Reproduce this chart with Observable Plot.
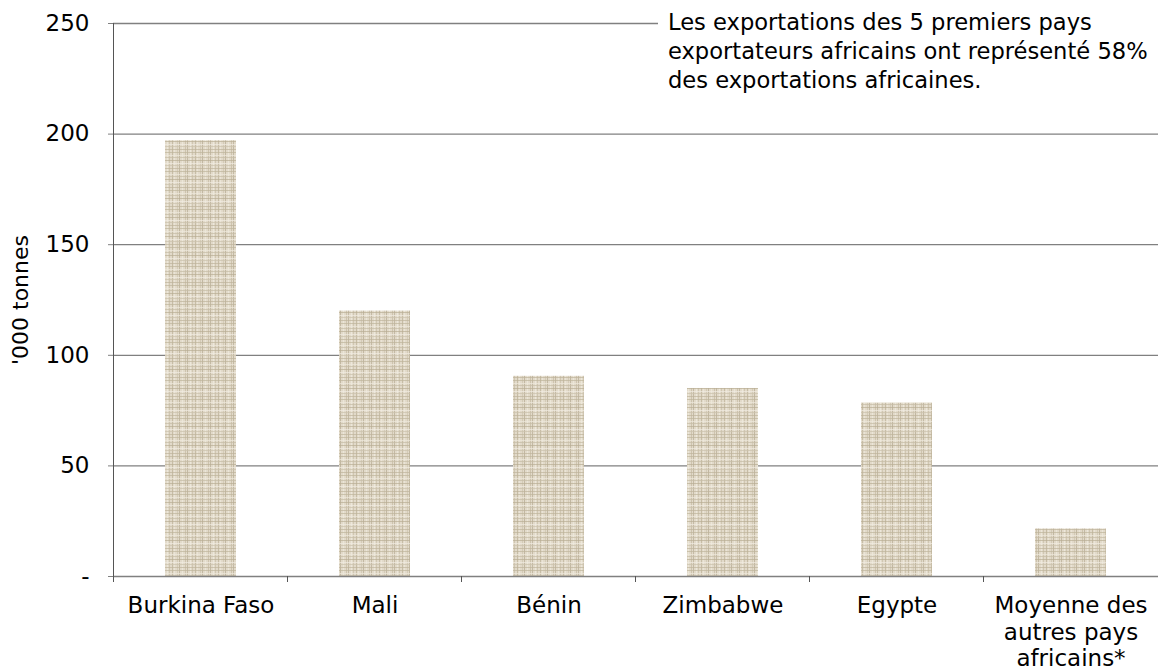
<!DOCTYPE html>
<html>
<head>
<meta charset="utf-8">
<script src="https://cdn.jsdelivr.net/npm/d3@7"></script>
<script src="https://cdn.jsdelivr.net/npm/@observablehq/plot@0.6"></script>
<style>
  html, body { margin: 0; padding: 0; background: #fff; }
  #wrap { position: relative; width: 1158px; height: 670px; overflow: hidden; font-family: "DejaVu Sans", Verdana, sans-serif; }
  #note { position: absolute; left: 658px; top: 8px; padding-left: 10px; background: #fff; font-size: 22.6px; line-height: 29px; color: #000; width: 490px; white-space: nowrap; }
</style>
</head>
<body>
<div id="wrap"><div id="note"></div></div>
<script>
const categories = ["Burkina Faso", "Mali", "Bénin", "Zimbabwe", "Egypte", "Moyenne des\nautres pays\nafricains*"];
const values = [197, 120, 90.5, 85, 78.5, 21.5];
const yTicks = [0, 50, 100, 150, 200, 250];
const yLabel = "'000 tonnes";
const noteLines = ["Les exportations des 5 premiers pays", "exportateurs africains ont représenté 58%", "des exportations africaines."];

document.getElementById("note").innerHTML = noteLines.join("<br>");

const data = categories.map((c, i) => ({category: c, value: values[i]}));
const FONT = 23;

const chart = Plot.plot({
  width: 1158,
  height: 670,
  marginLeft: 113,
  marginRight: 0,
  marginTop: 23,
  marginBottom: 94,
  style: {fontFamily: "'DejaVu Sans', Verdana, sans-serif", fontSize: FONT + "px", color: "#000", background: "#fff", overflow: "visible"},
  x: {domain: categories, paddingInner: 0.59, paddingOuter: 0.295, align: 0.5},
  y: {domain: [0, 250]},
  marks: [
    Plot.gridY(yTicks.filter(d => d > 0), {stroke: "#808080", strokeOpacity: 1, strokeWidth: 1.3}),
    Plot.barY(data, {x: "category", y: "value", fill: "url(#linen)"}),
    Plot.axisY(yTicks, {tickSize: 5, tickPadding: 19, stroke: "#808080", tickFormat: d => d === 0 ? "-" : d, label: null, fontSize: FONT}),
    Plot.axisX({tickSize: 0, tickPadding: 18, label: null, fontSize: FONT, lineHeight: 1.15}),
    Plot.ruleY([0], {stroke: "#808080", strokeWidth: 1.5}),
    Plot.frame({anchor: "left", stroke: "#555"}),
    Plot.text([yLabel], {frameAnchor: "left", textAnchor: "middle", dx: -93, rotate: -90, fontSize: FONT - 1, fill: "#000"})
  ]
});

// textured (linen-like) fill for bars
const svg = d3.select(chart);
const defs = svg.insert("defs", ":first-child");
const pat = defs.append("pattern").attr("id", "linen").attr("patternUnits", "userSpaceOnUse")
  .attr("width", 23).attr("height", 19);
pat.append("rect").attr("width", 23).attr("height", 19).attr("fill", "#e2daca");
const vCols = [[1, "#c6bba3"], [3, "#b8ad94"], [6, "#f2ede2"], [8, "#c9bfa9"], [11, "#bcb198"], [13, "#efe9dc"], [16, "#cfc5b0"], [18, "#b5aa91"], [21, "#f0ebdf"]];
const hRows = [[0, "#c0b59c"], [3, "#efe9dc"], [5, "#c7bca5"], [8, "#b9ae95"], [11, "#f1ece1"], [13, "#ccc2ad"], [16, "#bfb49b"]];
vCols.forEach(([p, c]) => pat.append("rect").attr("x", p).attr("y", 0).attr("width", 1).attr("height", 19).attr("fill", c).attr("opacity", 0.7));
hRows.forEach(([p, c]) => pat.append("rect").attr("x", 0).attr("y", p).attr("width", 23).attr("height", 1).attr("fill", c).attr("opacity", 0.7));

// category boundary ticks on the x axis, placed through the x scale
const xs = chart.scale("x");
const ys = chart.scale("y");
const y0 = ys.apply(0);
const step = xs.step;
const boundaries = categories.map(c => xs.apply(c) - (step - xs.bandwidth) / 2);
svg.append("g").selectAll("line").data(boundaries).join("line")
  .attr("x1", d => d).attr("x2", d => d)
  .attr("y1", y0).attr("y2", y0 + 6)
  .attr("stroke", "#555");

document.getElementById("wrap").prepend(chart);
chart.style.position = "absolute";
chart.style.left = "0";
chart.style.top = "0";
</script>
</body>
</html>
